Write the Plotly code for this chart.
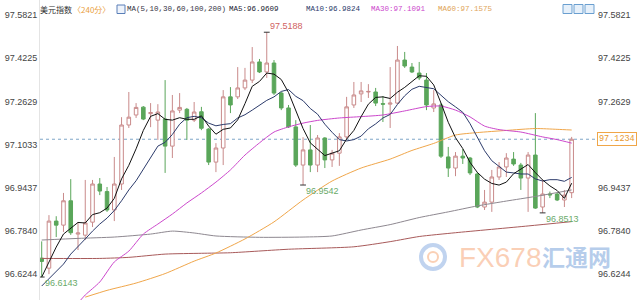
import plotly.graph_objects as go

# ---------------- data ----------------
opens = [96.684, 96.647, 96.821, 96.806, 96.896, 96.773, 96.769, 96.817, 96.958, 96.930,
         96.862, 96.958, 97.176, 97.213, 97.242, 97.218, 97.194, 97.198, 97.098, 97.231,
         97.234, 97.194, 97.225, 97.161, 97.039, 97.091, 97.280, 97.280, 97.313, 97.342,
         97.409, 97.372, 97.405, 97.294, 97.239, 97.169, 97.028, 97.084, 97.028, 97.128,
         97.047, 97.072, 97.132, 97.250, 97.291, 97.298, 97.298, 97.255, 97.253, 97.257,
         97.416, 97.390, 97.368, 97.342, 97.239, 97.250, 97.058, 97.017, 97.061, 97.054,
         96.995, 96.873, 96.891, 96.984, 97.021, 97.050, 97.028, 96.980, 97.065, 96.873,
         96.921, 96.921, 96.899, 96.926]
highs = [96.746, 96.843, 96.839, 96.925, 96.976, 96.817, 96.973, 96.973, 96.980, 96.947,
         97.058, 97.205, 97.298, 97.257, 97.246, 97.257, 97.253, 97.342, 97.287, 97.294,
         97.239, 97.261, 97.243, 97.165, 97.109, 97.305, 97.316, 97.390, 97.387, 97.464,
         97.420, 97.5188, 97.416, 97.298, 97.250, 97.194, 97.131, 97.176, 97.139, 97.131,
         97.084, 97.146, 97.280, 97.335, 97.335, 97.327, 97.313, 97.283, 97.390, 97.468,
         97.446, 97.405, 97.409, 97.368, 97.305, 97.257, 97.095, 97.076, 97.087, 97.058,
         97.002, 96.936, 97.010, 97.039, 97.072, 97.076, 97.036, 97.076, 97.220, 96.973,
         96.930, 96.925, 96.936, 97.132]
lows = [96.6143, 96.625, 96.762, 96.781, 96.770, 96.714, 96.751, 96.799, 96.917, 96.855,
        96.821, 96.936, 97.165, 97.202, 97.194, 97.168, 97.121, 96.999, 97.054, 97.220,
        97.121, 97.187, 97.157, 97.028, 97.002, 97.028, 97.220, 97.272, 97.305, 97.331,
        97.368, 97.350, 97.287, 97.231, 97.165, 97.021, 96.9542, 97.002, 97.002, 97.017,
        97.021, 97.025, 97.121, 97.239, 97.261, 97.276, 97.246, 97.187, 97.165, 97.253,
        97.387, 97.368, 97.342, 97.231, 97.224, 97.054, 96.984, 96.987, 97.032, 96.991,
        96.869, 96.862, 96.855, 96.973, 96.984, 97.025, 96.936, 96.855, 96.866, 96.8513,
        96.906, 96.895, 96.873, 96.906]
closes = [96.672, 96.821, 96.806, 96.896, 96.778, 96.777, 96.814, 96.958, 96.932, 96.862,
          96.958, 97.176, 97.205, 97.241, 97.198, 97.222, 97.224, 97.098, 97.228, 97.241,
          97.194, 97.224, 97.164, 97.039, 97.091, 97.280, 97.250, 97.313, 97.342, 97.409,
          97.372, 97.405, 97.294, 97.239, 97.169, 97.028, 97.084, 97.028, 97.128, 97.047,
          97.072, 97.132, 97.243, 97.287, 97.302, 97.300, 97.257, 97.253, 97.257, 97.416,
          97.394, 97.372, 97.350, 97.250, 97.254, 97.061, 97.017, 97.061, 97.054, 96.999,
          96.873, 96.891, 96.984, 97.021, 97.054, 97.032, 96.980, 97.065, 96.869, 96.921,
          96.918, 96.899, 96.917, 97.1234]

ma5 = [96.614, 96.670, 96.725, 96.773, 96.795, 96.816, 96.814, 96.845, 96.852, 96.869,
       96.905, 96.977, 97.027, 97.088, 97.156, 97.208, 97.218, 97.197, 97.194, 97.203,
       97.197, 97.197, 97.210, 97.172, 97.142, 97.160, 97.165, 97.195, 97.255, 97.319,
       97.337, 97.368, 97.364, 97.344, 97.296, 97.227, 97.163, 97.110, 97.087, 97.063,
       97.072, 97.081, 97.124, 97.156, 97.207, 97.253, 97.278, 97.280, 97.274, 97.297,
       97.315, 97.338, 97.358, 97.356, 97.324, 97.257, 97.186, 97.129, 97.089, 97.038,
       97.001, 96.976, 96.960, 96.954, 96.965, 96.996, 97.014, 97.030, 97.000, 96.973,
       96.951, 96.934, 96.905, 96.9609]
ma10 = [96.581, 96.607, 96.633, 96.662, 96.699, 96.729, 96.755, 96.784, 96.810,
        96.832, 96.860, 96.896, 96.936, 96.970, 97.012, 97.057, 97.098, 97.112, 97.141,
        97.179, 97.203, 97.208, 97.203, 97.183, 97.173, 97.178, 97.181, 97.202, 97.214,
        97.231, 97.248, 97.267, 97.280, 97.300, 97.307, 97.282, 97.266, 97.237, 97.216,
        97.179, 97.149, 97.122, 97.117, 97.122, 97.135, 97.162, 97.180, 97.202, 97.215,
        97.252, 97.284, 97.308, 97.319, 97.315, 97.310, 97.286, 97.262, 97.243, 97.223,
        97.181, 97.129, 97.081, 97.044, 97.022, 97.002, 96.999, 96.995, 96.995, 96.977,
        96.969, 96.974, 96.974, 96.968, 96.9824]
ma30_idx = [5, 6, 8, 10, 12, 14, 16, 18, 20, 22, 24, 26, 28, 30, 32, 34, 36, 38, 41, 44,
            47, 50, 53, 55, 57, 59, 61, 63, 66, 69, 71, 73]
ma30_val = [96.518, 96.548, 96.596, 96.670, 96.710, 96.773, 96.810, 96.847, 96.888, 96.925,
            96.965, 97.010, 97.065, 97.110, 97.150, 97.169, 97.183, 97.193, 97.202, 97.207,
            97.213, 97.228, 97.244, 97.246, 97.231, 97.206, 97.172, 97.159, 97.150, 97.132,
            97.122, 97.1091]
ma60_idx = [6, 9, 13, 17, 21, 24, 28, 32, 36, 40, 44, 48, 51, 54, 57, 60, 64, 68, 71, 73]
ma60_val = [96.540, 96.565, 96.592, 96.627, 96.673, 96.703, 96.755, 96.818, 96.899, 96.969,
            97.017, 97.050, 97.082, 97.108, 97.139, 97.148, 97.156, 97.163, 97.160, 97.1575]
ma100_idx = [0, 5, 10, 15, 18, 21, 24, 30, 36, 40, 44, 48, 52, 56, 60, 64, 68, 73]
ma100_val = [96.751, 96.757, 96.762, 96.773, 96.784, 96.777, 96.766, 96.761, 96.762, 96.766,
             96.788, 96.808, 96.834, 96.855, 96.877, 96.895, 96.912, 96.936]
ma200_idx = [0, 8, 12, 17, 22, 26, 34, 43, 48, 52, 57, 67, 73]
ma200_val = [96.683, 96.683, 96.687, 96.699, 96.702, 96.704, 96.717, 96.726, 96.745, 96.764,
             96.778, 96.803, 96.819]

tick_vals = [96.6244, 96.7840, 96.9437, 97.1033, 97.2629, 97.4225, 97.5821]
tick_text = ["96.6244", "96.7840", "96.9437", "97.1033", "97.2629", "97.4225", "97.5821"]

title_text = "美元指数"
period_text = "〈240分〉"
ma_spec_text = "MA(5,10,30,60,100,200)"
legend_names = ["MA5", "MA10", "MA30", "MA60"]
legend_values = [ma5[-1], ma10[-1], ma30_val[-1], ma60_val[-1]]

# marked extremes: (candle index, "high"/"low")
marked = [(31, "high"), (0, "low"), (36, "low"), (69, "low")]

watermark_latin = "FX678"
watermark_cjk = "汇通网"

# ---------------- style ----------------
W, H = 640, 300
L, R, T, B = 40, 43, 0, 0
PW = W - L - R
UP = "#c98a8a"
DN = "#5aa65a"
MA_COLORS = {"ma5": "#111111", "ma10": "#2c3b6b", "ma30": "#cc47cc",
             "ma60": "#f0a64a", "ma100": "#8e8890", "ma200": "#a85a5a"}
n = len(closes)
idx = list(range(n))
last = closes[-1]


def px_x(p):
    return (p - L) / PW


def px_y(p):
    return 1 - (p - T) / (H - T - B)


fig = go.Figure()
fig.add_trace(go.Candlestick(
    x=idx, open=opens, high=highs, low=lows, close=closes,
    increasing=dict(line=dict(color=UP, width=1), fillcolor="#ffffff"),
    decreasing=dict(line=dict(color=DN, width=1), fillcolor=DN),
    whiskerwidth=0, showlegend=False, hoverinfo="skip"))

for key, xs, ys, shape in [("ma200", ma200_idx, ma200_val, "spline"),
                           ("ma100", ma100_idx, ma100_val, "spline"),
                           ("ma60", ma60_idx, ma60_val, "spline"),
                           ("ma30", ma30_idx, ma30_val, "spline"),
                           ("ma10", idx, ma10, "linear"),
                           ("ma5", idx, ma5, "linear")]:
    fig.add_trace(go.Scatter(x=xs, y=ys, mode="lines",
                             line=dict(color=MA_COLORS[key], width=1, shape=shape, smoothing=0.6),
                             showlegend=False, hoverinfo="skip"))

# invisible trace to carry the right-hand axis
fig.add_trace(go.Scatter(x=idx, y=closes, yaxis="y2", mode="lines",
                         line=dict(width=0), opacity=0, showlegend=False, hoverinfo="skip"))

# right-hand ticks: the one hidden under the current-price box is not shown
right_vals = [v for v in tick_vals if abs(v - last) > 0.03]
right_text = [t for v, t in zip(tick_vals, tick_text) if abs(v - last) > 0.03]

yr = [96.5294, 97.6379]
tick_font = dict(family="Liberation Sans, Arial, sans-serif", size=9, color="#444444")
fig.update_layout(
    width=W, height=H, margin=dict(l=L, r=R, t=T, b=B),
    paper_bgcolor="#ffffff", plot_bgcolor="#ffffff",
    xaxis=dict(range=[-0.234, 76.49], showgrid=False, zeroline=False, showticklabels=False,
               showline=False, ticks="", rangeslider=dict(visible=False), fixedrange=True),
    yaxis=dict(range=yr, tickvals=tick_vals, ticktext=tick_text, side="left",
               showgrid=False, zeroline=False, showline=True, linecolor="#e4e4e4",
               ticks="", tickfont=tick_font, fixedrange=True),
    yaxis2=dict(range=yr, tickvals=right_vals, ticktext=right_text, side="right",
                overlaying="y", anchor="x", showgrid=False, zeroline=False, showline=False,
                ticks="", tickfont=tick_font, fixedrange=True),
    showlegend=False,
)

shapes = []
annots = []

# current price dotted line and label
shapes.append(dict(type="line", xref="paper", yref="y", x0=0, x1=1, y0=last, y1=last,
                   line=dict(color="#7ea6c8", width=1, dash="dot"), layer="below"))
annots.append(dict(xref="paper", yref="y", x=1.0, y=last, xanchor="left", yanchor="middle",
                   text=f"{last:.4f}", showarrow=False, bgcolor="#ffffff",
                   bordercolor="#f0a648", borderwidth=1, borderpad=1,
                   font=dict(family="Liberation Mono, monospace", size=8.5, color="#e8982e")))

# extreme markers
for i, kind in marked:
    v = highs[i] if kind == "high" else lows[i]
    shapes.append(dict(type="line", xref="x", yref="y", x0=i - 0.4, x1=i + 0.4, y0=v, y1=v,
                       line=dict(color="#333333", width=1)))
    annots.append(dict(xref="x", yref="y", x=i, y=v, text=f"{v:.4f}", showarrow=False,
                       xanchor="left", yanchor="bottom" if kind == "high" else "top",
                       xshift=1, yshift=-1 if kind == "high" else 1,
                       font=dict(family="Liberation Sans, Arial, sans-serif", size=9,
                                 color="#d06262" if kind == "high" else "#6aaa6a")))

# top header
cjk = "Noto Sans CJK SC"
mono = "Liberation Mono, monospace"
hy = px_y(9.5)
annots.append(dict(xref="paper", yref="paper", x=px_x(39), y=hy, xanchor="left", yanchor="middle",
                   text=title_text, showarrow=False, borderpad=0,
                   font=dict(family=cjk, size=8, color="#333333")))
annots.append(dict(xref="paper", yref="paper", x=px_x(72), y=hy, xanchor="left", yanchor="middle",
                   text=period_text, showarrow=False, borderpad=0,
                   font=dict(family=cjk, size=8, color="#eaa040")))
shapes.append(dict(type="rect", xref="paper", yref="paper", x0=px_x(117), x1=px_x(125),
                   y0=px_y(13.5), y1=px_y(5), line=dict(color="#5a7fb8", width=1),
                   fillcolor="#eef3fb"))
annots.append(dict(xref="paper", yref="paper", x=px_x(125.5), y=hy, xanchor="left",
                   yanchor="middle", text=ma_spec_text, showarrow=False, borderpad=0,
                   font=dict(family=mono, size=7.5, color="#333344")))
header_x = [228, 305, 370, 437]
header_c = ["#222233", "#2c3b6b", "#cc47cc", "#e0a458"]
for name, val, xpos, col in zip(legend_names, legend_values, header_x, header_c):
    annots.append(dict(xref="paper", yref="paper", x=px_x(xpos), y=hy, xanchor="left",
                       yanchor="middle", text=f"{name}:{val:.4f}", showarrow=False, borderpad=0,
                       font=dict(family=mono, size=7.5, color=col)))

# top-right tool icons
for x0 in [563, 574, 585]:
    shapes.append(dict(type="rect", xref="paper", yref="paper", x0=px_x(x0), x1=px_x(x0 + 9),
                       y0=px_y(13.5), y1=px_y(4.5), line=dict(color="#6a9fd0", width=1),
                       fillcolor="#e6f0fa"))

# watermark
shapes.append(dict(type="circle", xref="paper", yref="paper", x0=px_x(421), x1=px_x(445),
                   y0=px_y(269), y1=px_y(245), line=dict(color="rgba(140,175,225,0.55)", width=4)))
shapes.append(dict(type="circle", xref="paper", yref="paper", x0=px_x(428), x1=px_x(438),
                   y0=px_y(262), y1=px_y(252), line=dict(color="rgba(245,170,120,0.55)", width=2)))
annots.append(dict(xref="paper", yref="paper", x=px_x(457), y=px_y(257), xanchor="left",
                   yanchor="middle", text=watermark_latin, showarrow=False,
                   font=dict(family="Liberation Sans, Arial, sans-serif", size=28,
                             color="rgba(246,160,110,0.5)")))
annots.append(dict(xref="paper", yref="paper", x=px_x(541), y=px_y(256), xanchor="left",
                   yanchor="middle", text=f"<b>{watermark_cjk}</b>", showarrow=False,
                   borderpad=0,
                   font=dict(family=cjk, size=23, color="rgba(110,155,215,0.5)")))

fig.update_layout(shapes=shapes, annotations=annots)
fig.write_html("out.html", config={"displayModeBar": False})
